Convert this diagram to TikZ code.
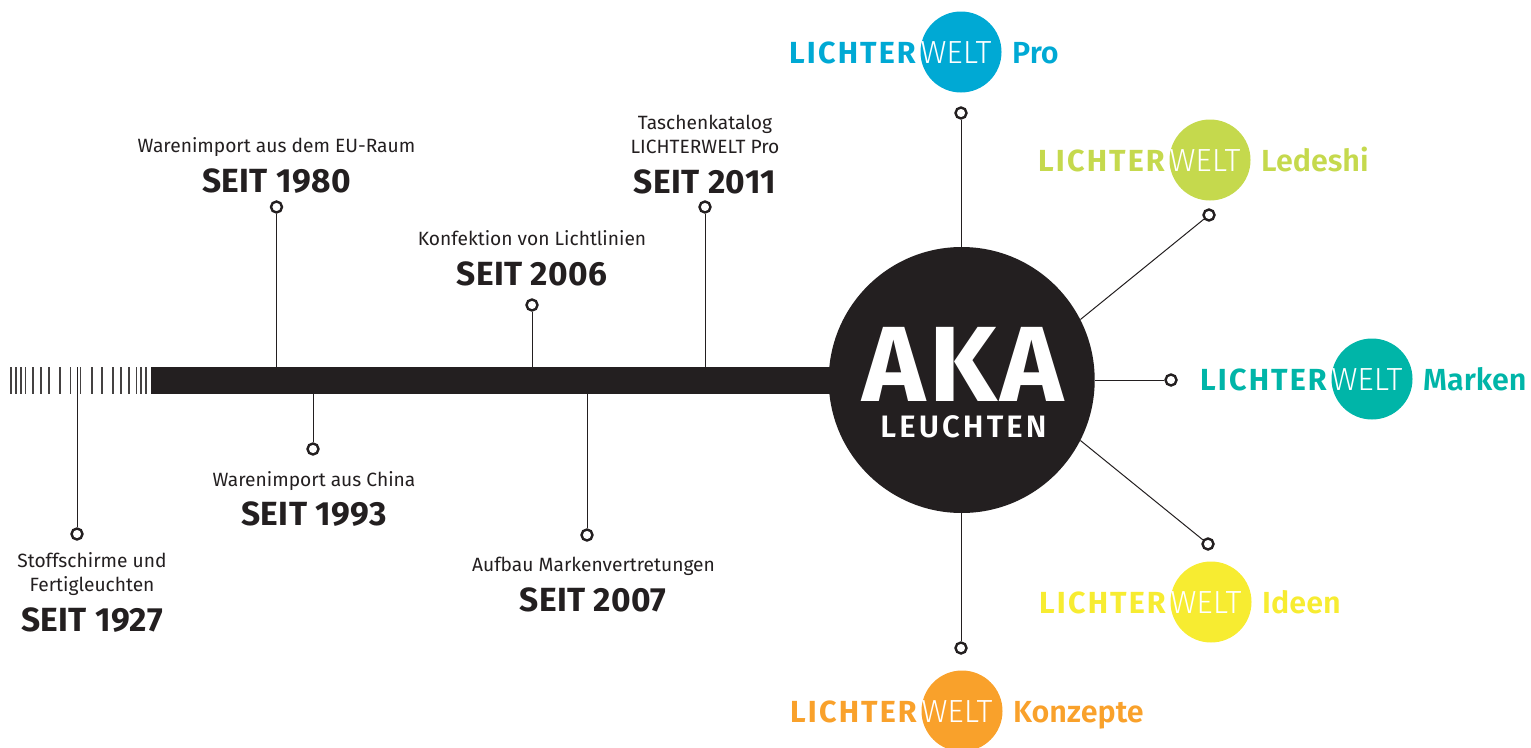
\documentclass[tikz,border=0pt]{standalone}
\usepackage{fontspec}
\setmainfont{Fira Sans}
\newfontfamily\fb{Fira Sans}[UprightFont=* SemiBold]
\newfontfamily\fx{Fira Sans}[UprightFont=* Bold]
\newfontfamily\fl{Fira Sans}[UprightFont=* Light]
\definecolor{ink}{HTML}{231F20}
\definecolor{cpro}{HTML}{00A9D4}
\definecolor{cled}{HTML}{C5D94D}
\definecolor{cmar}{HTML}{00B5A8}
\definecolor{cide}{HTML}{F7EC31}
\definecolor{ckon}{HTML}{F9A12B}
\newcommand{\yearf}{\fx\fontsize{33.5}{36}\selectfont\addfontfeature{LetterSpace=1.2}}
\newcommand{\capf}{\fontsize{19.2}{24}\selectfont}
\newcommand{\logof}{\fb\fontsize{30.5}{32}\selectfont}
\newcommand{\lichf}{\fx\fontsize{30.5}{32}\selectfont\addfontfeature{LetterSpace=7}}
\newcommand{\weltf}{\fl\fontsize{32}{32}\selectfont}
\tikzset{
  x=1pt,y=-1pt,
  dot/.style={circle,draw=ink,line width=2.4pt,fill=white,inner sep=0pt,minimum size=11pt},
  stem/.style={draw=ink,line width=1pt},
  tick/.style={draw=ink!85,line width=1.6pt},
  yearlab/.style={text=ink,font=\yearf,inner sep=0pt,anchor=base},
  caplab/.style={text=ink,font=\capf,inner sep=0pt,anchor=base,align=center},
  disc/.style={circle,inner sep=0pt,minimum size=81pt},
  lichter/.style={font=\lichf,inner sep=0pt,anchor=base east},
  welt/.style={font=\weltf,text=white,inner sep=0pt,anchor=base},
  suffix/.style={font=\logof,inner sep=0pt,anchor=base west},
}
\newcommand{\logo}[5]{% name, cx, cy, colour, suffix
  \node[disc,fill=#4] (#1disc) at (#2,#3) {};
  \node[lichter,text=#4] (#1a) at (#2-45,#3+11) {LICHTER};
  \node[welt] (#1b) at (#2-5,#3+11) {WELT};
  \node[suffix,text=#4] (#1c) at (#2+51,#3+11) {#5};
}
\begin{document}
\begin{tikzpicture}
\useasboundingbox (0,0) rectangle (1531,747);
% ticks
\foreach \t in {10.7,15.7,20.7,25.3,32.7,40.7,48.7,60,70.3,80.3,91.7,102,112.7,120.7,128.7,136.3,141,145.7}
  \draw[tick] (\t,367) -- (\t,394);
% bar and hub
\node[rectangle,fill=ink,inner sep=0pt,minimum width=690pt,minimum height=27pt,anchor=west] (bar) at (151,380.5) {};
\node[circle,fill=ink,inner sep=0pt,minimum size=266pt] (aka) at (961.7,380) {};
\node[font=\fx\fontsize{107}{107}\selectfont\addfontfeature{LetterSpace=3},text=white,inner sep=0pt,anchor=base] (akat) at (963,401) {AKA};
\node[font=\fb\fontsize{31}{31}\selectfont\addfontfeature{LetterSpace=10},text=white,inner sep=0pt,anchor=base] (leu) at (963.5,437) {LEUCHTEN};
% timeline dots
\node[dot] (d27) at (77,534) {};
\node[dot] (d80) at (276.5,207) {};
\node[dot] (d93) at (313,449) {};
\node[dot] (d06) at (532,305) {};
\node[dot] (d07) at (587,535) {};
\node[dot] (d11) at (705,207) {};
\coordinate (t27) at (77,367);
\draw[stem] (d27) -- (t27);
\draw[stem] (d80) -- (d80 |- bar.north);
\draw[stem] (d93) -- (d93 |- bar.south);
\draw[stem] (d06) -- (d06 |- bar.north);
\draw[stem] (d07) -- (d07 |- bar.south);
\draw[stem] (d11) -- (d11 |- bar.north);
% hub dots
\node[dot] (hp) at (961,113) {};
\node[dot] (hl) at (1209,215) {};
\node[dot] (hm) at (1171,380) {};
\node[dot] (hi) at (1208,544) {};
\node[dot] (hk) at (961,648) {};
\draw[stem] (hp) -- (hp |- aka.north);
\draw[stem] (hl) -- (aka.27.7);
\draw[stem] (hm) -- (aka.east);
\draw[stem] (hi) -- (aka.-27.7);
\draw[stem] (hk) -- (hk |- aka.south);
% captions
\node[caplab] (c27) at (92,591) {Stoffschirme und\\Fertigleuchten};
\node[yearlab] (y27) at (92,631) {SEIT 1927};
\node[caplab] (c80) at (276.5,152) {Warenimport aus dem EU-Raum};
\node[yearlab] (y80) at (276.5,192) {SEIT 1980};
\node[caplab] (c93) at (314,486) {Warenimport aus China};
\node[yearlab] (y93) at (314,525) {SEIT 1993};
\node[caplab] (c06) at (532,245) {Konfektion von Lichtlinien};
\node[yearlab] (y06) at (532,285) {SEIT 2006};
\node[caplab] (c07) at (593.5,571) {Aufbau Markenvertretungen};
\node[yearlab] (y07) at (593,611) {SEIT 2007};
\node[caplab] (c11) at (705,153) {Taschenkatalog\\LICHTERWELT Pro};
\node[yearlab] (y11) at (705,193) {SEIT 2011};
% logos
\logo{pro}{961}{52}{cpro}{Pro}
\logo{led}{1210}{160}{cled}{Ledeshi}
\logo{mar}{1372}{379}{cmar}{Marken}
\logo{ide}{1211}{602}{cide}{Ideen}
\logo{kon}{962}{711}{ckon}{Konzepte}
\end{tikzpicture}
\end{document}
